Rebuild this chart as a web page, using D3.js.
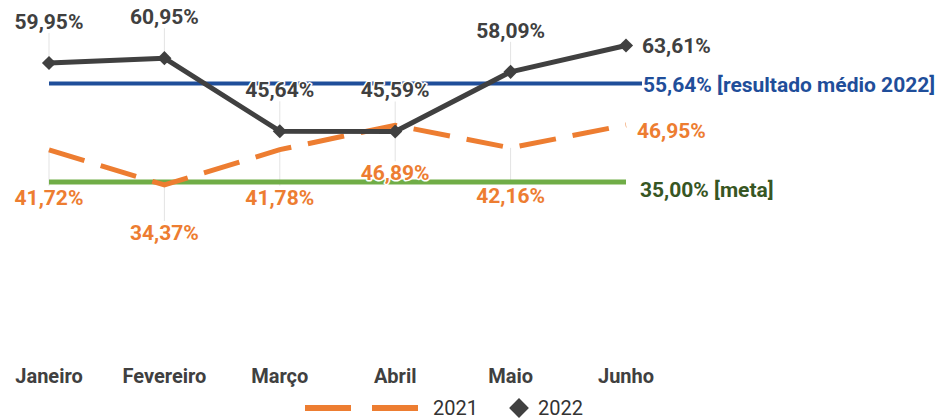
<!DOCTYPE html>
<html>
<head>
<meta charset="utf-8">
<script src="https://cdn.jsdelivr.net/npm/d3@7"></script>
<style>
  body { margin: 0; background: #fff; }
  text { font-family: Roboto, "Noto Sans", sans-serif; }
</style>
</head>
<body>
<svg id="chart"></svg>
<script>
// Data
const months = ["Janeiro", "Fevereiro", "Março", "Abril", "Maio", "Junho"];
const values2021 = [41.72, 34.37, 41.78, 46.89, 42.16, 46.95];
const values2022 = [59.95, 60.95, 45.64, 45.59, 58.09, 63.61];
const average2022 = 55.64;
const target = 35.00;
const seriesNames = ["2021", "2022"];

const width = 944, height = 419;
const svg = d3.select("#chart").attr("width", width).attr("height", height);

const fmt = v => d3.format(".2f")(v).replace(".", ",") + "%";

// Scales
const x = d3.scalePoint().domain(months).range([49, 626]);
const y = d3.scaleLinear().domain([0, 70]).range([349, 15]);

const orange = "#ED7D31", dark = "#404040", blue = "#1F4E9A", green = "#70AD47";

// Leader lines from labels to points
const d2021 = months.map((m, i) => ({ m, v: values2021[i], i }));
const d2022 = months.map((m, i) => ({ m, v: values2022[i], i }));

svg.append("g").selectAll("line")
  .data(d2022.filter(d => d.i < 5))
  .join("line")
    .attr("x1", d => x(d.m)).attr("x2", d => x(d.m))
    .attr("y1", d => y(d.v) - 30).attr("y2", d => y(d.v))
    .attr("stroke", "#e3e3e3").attr("stroke-width", 1);

svg.append("g").selectAll("line")
  .data(d2021.filter(d => d.i < 5))
  .join("line")
    .attr("x1", d => x(d.m)).attr("x2", d => x(d.m))
    .attr("y1", d => y(d.v)).attr("y2", d => y(d.v) + 36)
    .attr("stroke", "#e3e3e3").attr("stroke-width", 1);

// Reference lines
svg.append("line")
  .attr("x1", x(months[0])).attr("x2", x(months[5]) + 16)
  .attr("y1", y(average2022)).attr("y2", y(average2022))
  .attr("stroke", blue).attr("stroke-width", 4);

svg.append("line")
  .attr("x1", x(months[0])).attr("x2", x(months[5]))
  .attr("y1", y(target)).attr("y2", y(target))
  .attr("stroke", green).attr("stroke-width", 5);

// 2021 dashed line
const line = d3.line().x(d => x(d.m)).y(d => y(d.v));
svg.append("path")
  .datum(d2021)
  .attr("d", line)
  .attr("fill", "none")
  .attr("stroke", orange)
  .attr("stroke-width", 5)
  .attr("stroke-dasharray", "37,17");

// 2022 solid line with diamonds
svg.append("path")
  .datum(d2022)
  .attr("d", line)
  .attr("fill", "none")
  .attr("stroke", dark)
  .attr("stroke-width", 5)
  .attr("stroke-linejoin", "round");

const diamond = d3.symbol().type(d3.symbolSquare).size(100);
svg.append("g").selectAll("path")
  .data(d2022)
  .join("path")
    .attr("d", diamond)
    .attr("transform", d => `translate(${x(d.m)},${y(d.v)}) rotate(45)`)
    .attr("fill", dark);

// Value labels
function label(sel) {
  return sel.attr("font-size", 21).attr("font-weight", 700)
    .attr("paint-order", "stroke").attr("stroke", "#fff")
    .attr("stroke-width", 3).attr("stroke-linejoin", "round");
}

svg.append("g").selectAll("text")
  .data(d2022)
  .join("text")
    .attr("x", d => d.i < 5 ? x(d.m) : x(d.m) + 16)
    .attr("y", d => d.i < 5 ? y(d.v) - 34 : y(d.v) + 8)
    .attr("text-anchor", d => d.i < 5 ? "middle" : "start")
    .attr("fill", dark)
    .text(d => fmt(d.v))
    .call(label);

svg.append("g").selectAll("text")
  .data(d2021)
  .join("text")
    .attr("x", d => d.i < 5 ? x(d.m) : x(d.m) + 11)
    .attr("y", d => d.i < 5 ? y(d.v) + 55 : y(d.v) + 13)
    .attr("text-anchor", d => d.i < 5 ? "middle" : "start")
    .attr("fill", orange)
    .text(d => fmt(d.v))
    .call(label);

svg.append("text")
  .attr("x", x(months[5]) + 17).attr("y", y(average2022) + 8)
  .attr("fill", blue)
  .text(fmt(average2022) + " [resultado médio 2022]")
  .call(label);

svg.append("text")
  .attr("x", x(months[5]) + 14).attr("y", y(target) + 15)
  .attr("fill", "#375623")
  .text(fmt(target) + " [meta]")
  .call(label);

// X axis labels
svg.append("g").selectAll("text")
  .data(months)
  .join("text")
    .attr("x", d => x(d)).attr("y", 383)
    .attr("text-anchor", "middle")
    .attr("font-family", "'Liberation Sans Narrow', Roboto, sans-serif")
    .attr("font-size", 20).attr("font-weight", 700)
    .attr("fill", "#404040")
    .text(d => d);

// Legend
const lg = svg.append("g").attr("transform", "translate(0,408)");
lg.append("line").attr("x1", 305).attr("x2", 418).attr("y1", 0).attr("y2", 0)
  .attr("stroke", orange).attr("stroke-width", 6).attr("stroke-dasharray", "46,21");
lg.append("text").attr("x", 433).attr("y", 0).attr("dy", "0.35em")
  .attr("font-family", "'Liberation Sans Narrow', Roboto, sans-serif")
  .attr("font-size", 20).attr("fill", "#333").text(seriesNames[0]);
lg.append("path").attr("d", d3.symbol().type(d3.symbolSquare).size(196))
  .attr("transform", "translate(519,0) rotate(45)").attr("fill", dark);
lg.append("text").attr("x", 538).attr("y", 0).attr("dy", "0.35em")
  .attr("font-family", "'Liberation Sans Narrow', Roboto, sans-serif")
  .attr("font-size", 20).attr("fill", "#333").text(seriesNames[1]);
</script>
</body>
</html>
